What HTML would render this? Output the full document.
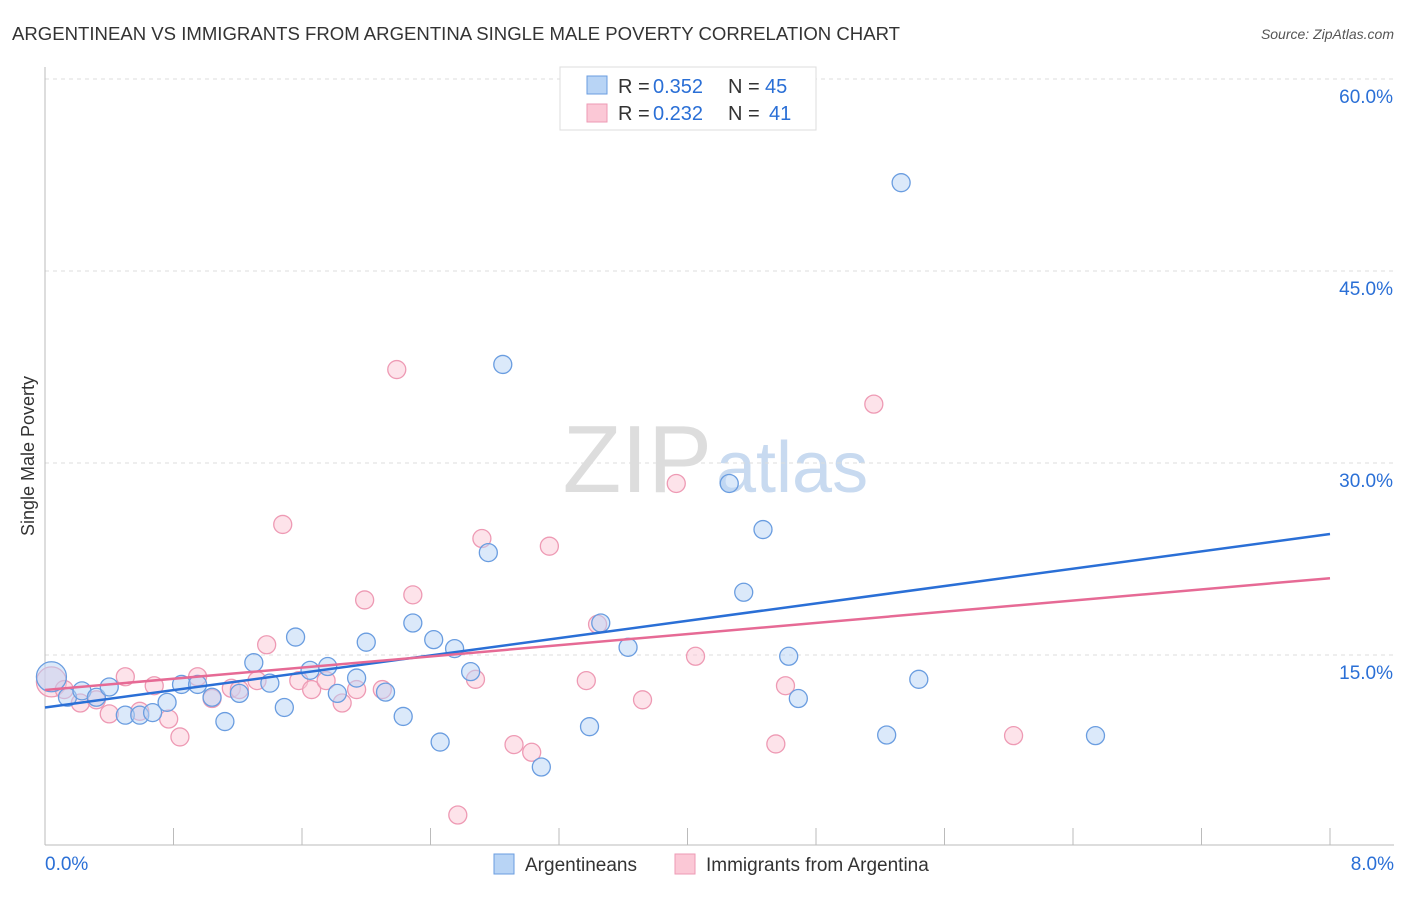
<!DOCTYPE html>
<html><head><meta charset="utf-8"><style>
body{margin:0;background:#fff;font-family:"Liberation Sans",sans-serif}
svg text{font-family:"Liberation Sans",sans-serif}
</style></head><body>
<svg width="1406" height="892">
<text x="12" y="40" font-size="18" fill="#333" textLength="888" lengthAdjust="spacingAndGlyphs">ARGENTINEAN VS IMMIGRANTS FROM ARGENTINA SINGLE MALE POVERTY CORRELATION CHART</text>
<text x="1394" y="39" font-size="14" fill="#555" font-style="italic" text-anchor="end">Source: ZipAtlas.com</text>
<text x="712" y="492" font-size="96" fill="#ddd" text-anchor="end" font-family="Liberation Serif">ZIP</text>
<text x="716" y="492" font-size="72" fill="#c8daf0">atlas</text>
<g id="grid"></g>
<g id="axes"></g>
<text transform="translate(34,456) rotate(-90)" font-size="18" fill="#333" text-anchor="middle">Single Male Poverty</text>
<g id="marks"></g>
<g>
<rect x="560" y="67" width="256" height="63" fill="#fff" stroke="#ddd"/>
<rect x="587" y="76" width="20" height="18" fill="#b8d4f5" stroke="#6a9de0"/>
<rect x="587" y="104" width="20" height="18" fill="#fbc8d6" stroke="#ee9ab4"/>
<text x="618" y="93" font-size="20" fill="#333">R =</text>
<text x="653" y="93" font-size="20" fill="#2a6fd6">0.352</text>
<text x="728" y="93" font-size="20" fill="#333">N =</text>
<text x="765" y="93" font-size="20" fill="#2a6fd6">45</text>
<text x="618" y="120" font-size="20" fill="#333">R =</text>
<text x="653" y="120" font-size="20" fill="#2a6fd6">0.232</text>
<text x="728" y="120" font-size="20" fill="#333">N =</text>
<text x="769" y="120" font-size="20" fill="#2a6fd6">41</text>
</g>
<g>
<rect x="494" y="854" width="20" height="20" fill="#b8d4f5" stroke="#6a9de0"/>
<text x="525" y="871" font-size="19" fill="#333">Argentineans</text>
<rect x="675" y="854" width="20" height="20" fill="#fbc8d6" stroke="#ee9ab4"/>
<text x="706" y="871" font-size="19" fill="#333">Immigrants from Argentina</text>
</g>
</svg>
<script>
const yTicks=[15,30,45,60];
const yTickLabels=["15.0%","30.0%","45.0%","60.0%"];
const xTickLabels=["0.0%","8.0%"];
const blueX=[0.04,0.14,0.23,0.32,0.40,0.50,0.59,0.67,0.76,0.85,0.95,1.04,1.12,1.21,1.30,1.40,1.49,1.56,1.65,1.76,1.82,1.94,2.00,2.12,2.23,2.29,2.42,2.46,2.55,2.65,2.76,2.85,3.09,3.39,3.46,3.63,4.26,4.35,4.47,4.63,4.69,5.24,5.33,5.44,6.54];
const blueY=[13.3,11.7,12.2,11.7,12.5,10.3,10.3,10.5,11.3,12.7,12.7,11.7,9.8,12.0,14.4,12.8,10.9,16.4,13.8,14.1,12.0,13.2,16.0,12.1,10.2,17.5,16.2,8.2,15.5,13.7,23.0,37.7,6.25,9.4,17.5,15.6,28.4,19.9,24.8,14.9,11.6,8.75,51.9,13.1,8.7];
const pinkX=[0.04,0.12,0.22,0.32,0.40,0.50,0.59,0.68,0.77,0.84,0.95,1.04,1.16,1.21,1.32,1.38,1.48,1.58,1.66,1.75,1.85,1.94,1.99,2.10,2.19,2.29,2.57,2.68,2.72,2.92,3.03,3.14,3.37,3.44,3.72,3.93,4.05,4.55,4.61,5.16,6.03];
const pinkY=[12.9,12.3,11.25,11.5,10.4,13.3,10.6,12.6,10.0,8.6,13.3,11.6,12.4,12.3,13.0,15.8,25.2,13.0,12.3,13.0,11.25,12.3,19.3,12.3,37.3,19.7,2.5,13.1,24.1,8.0,7.4,23.5,13.0,17.4,11.5,28.4,14.9,8.05,12.6,34.6,8.7];
const blueTrend=[10.9,24.45];
const pinkTrend=[12.27,21.0];
const X=v=>45+v/8*1285, Y=v=>847-v/15*192;
const NS="http://www.w3.org/2000/svg";
function mk(t,a,p){const e=document.createElementNS(NS,t);for(const k in a)e.setAttribute(k,a[k]);p.appendChild(e);return e;}
const grid=document.getElementById('grid'),axes=document.getElementById('axes'),marks=document.getElementById('marks');
yTicks.forEach((t,i)=>{
 const l=mk('line',{x1:45,x2:1394,y1:Y(t),y2:Y(t),stroke:'#ddd','stroke-dasharray':'4,4'},grid);
 
 
 const tx=mk('text',{x:1393,y:Y(t)+24,'font-size':19,fill:'#2a6fd6','text-anchor':'end'},axes);
 tx.textContent=yTickLabels[i];
 
 
});
const ya=mk('line',{x1:45,x2:45,y1:67,y2:845,stroke:'#bbb'},axes);


const xa=mk('line',{x1:45,x2:1394,y1:845,y2:845,stroke:'#bbb'},axes);


for(let i=1;i<=10;i++){const t=mk('line',{x1:X(i*0.8),x2:X(i*0.8),y1:828,y2:845,stroke:'#bbb'},axes);
 
 }
[[0,'start',45],[8,'end',1394]].forEach((d,i)=>{const t=mk('text',{x:d[2],y:870,'font-size':19,fill:'#2a6fd6','text-anchor':d[1]},axes);t.textContent=xTickLabels[i];
 
 });
function pts(xs,ys,fill,stroke,name){xs.forEach((x,i)=>{const c=mk('circle',{cx:X(x),cy:Y(ys[i]),r:i==0?15:9,fill:fill,'fill-opacity':0.5,stroke:stroke,'stroke-width':1.3},marks);
 
 });}
pts(pinkX,pinkY,'#fbc8d6','#ee9ab4','pink-point');
pts(blueX,blueY,'#b8d4f5','#6a9de0','blue-point');
const bl=mk('line',{x1:X(0),x2:X(8),y1:Y(blueTrend[0]),y2:Y(blueTrend[1]),stroke:'#2a6fd6','stroke-width':2.5},marks);


const pl=mk('line',{x1:X(0),x2:X(8),y1:Y(pinkTrend[0]),y2:Y(pinkTrend[1]),stroke:'#e66a95','stroke-width':2.5},marks);


</script>
</body></html>
